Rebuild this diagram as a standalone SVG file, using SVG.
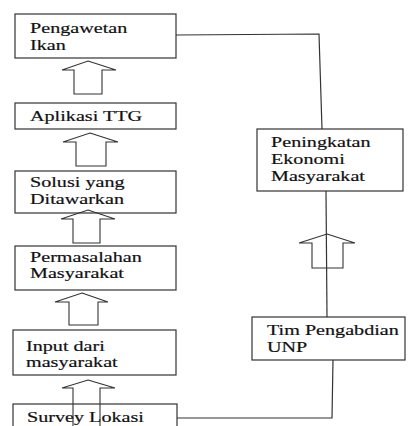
<svg xmlns="http://www.w3.org/2000/svg" width="409" height="426" viewBox="0 0 409 426">
<style>
.box{fill:#fff;stroke:#333;stroke-width:1.2}
.t{font-family:"Liberation Serif","Times New Roman",serif;font-size:15.5px;fill:#111;stroke:#111;stroke-width:0.2}
.arr{fill:none;stroke:#333;stroke-width:1.1;stroke-linejoin:miter}
.ln{fill:none;stroke:#333;stroke-width:1.2}
</style>
<rect width="409" height="426" fill="#fff"/>
<g id="pengawetan"><rect class="box" x="15" y="14" width="161" height="44"/>
<g transform="matrix(1.3 0 0 1 30 33)"><text class="t">Pengawetan</text></g>
<g transform="matrix(1.3 0 0 1 30 49.5)"><text class="t">Ikan</text></g></g>
<g id="aplikasi"><rect class="box" x="15" y="103" width="161" height="26"/>
<g transform="matrix(1.3 0 0 1 30 121)"><text class="t">Aplikasi TTG</text></g></g>
<g id="solusi"><rect class="box" x="15" y="171" width="161" height="42"/>
<g transform="matrix(1.3 0 0 1 30 187)"><text class="t">Solusi yang</text></g>
<g transform="matrix(1.3 0 0 1 30 204)"><text class="t">Ditawarkan</text></g></g>
<g id="permasalahan"><rect class="box" x="15" y="246" width="161" height="44"/>
<g transform="matrix(1.3 0 0 1 30 262)"><text class="t">Permasalahan</text></g>
<g transform="matrix(1.3 0 0 1 30 278)"><text class="t">Masyarakat</text></g></g>
<g id="input"><rect class="box" x="13" y="330" width="163" height="45"/>
<g transform="matrix(1.3 0 0 1 26 351)"><text class="t">Input dari</text></g>
<g transform="matrix(1.3 0 0 1 26 367)"><text class="t">masyarakat</text></g></g>
<g id="survey"><rect class="box" x="13" y="404" width="164" height="30"/>
<g transform="matrix(1.3 0 0 1 27 422)"><text class="t">Survey Lokasi</text></g></g>
<g id="peningkatan"><rect class="box" x="257" y="129" width="146" height="62"/>
<g transform="matrix(1.3 0 0 1 271 147)"><text class="t">Peningkatan</text></g>
<g transform="matrix(1.3 0 0 1 271 164)"><text class="t">Ekonomi</text></g>
<g transform="matrix(1.3 0 0 1 271 181)"><text class="t">Masyarakat</text></g></g>
<g id="tim"><rect class="box" x="252" y="317" width="153" height="43"/>
<g transform="matrix(1.3 0 0 1 267 335)"><text class="t">Tim Pengabdian</text></g>
<g transform="matrix(1.3 0 0 1 267 352)"><text class="t">UNP</text></g></g>
<g id="connectors">
<polygon class="arr" points="88,61 116,70 102,70 102,94 74,94 74,70 62,70"/>
<polygon class="arr" points="90,133 118,142 106,142 106,166 76,166 76,142 63,142"/>
<polygon class="arr" points="88,210 115,219 100,219 100,243 73,243 73,219 61,219"/>
<polygon class="arr" points="82,293 108,302 98,302 98,325 69,325 69,302 55,302"/>
<polygon class="arr" points="88,380 115,388 100,388 100,432 73,432 73,388 62,388"/>
<polygon class="arr" points="327,234 355,243 343,243 343,268 312,268 312,243 299,243"/>
<polyline class="ln" points="176,35 319,34 322,129"/>
<line class="ln" x1="326" y1="191" x2="327" y2="317"/>
<polyline class="ln" points="177,418 332,418 333,360"/>
</g>
</svg>
